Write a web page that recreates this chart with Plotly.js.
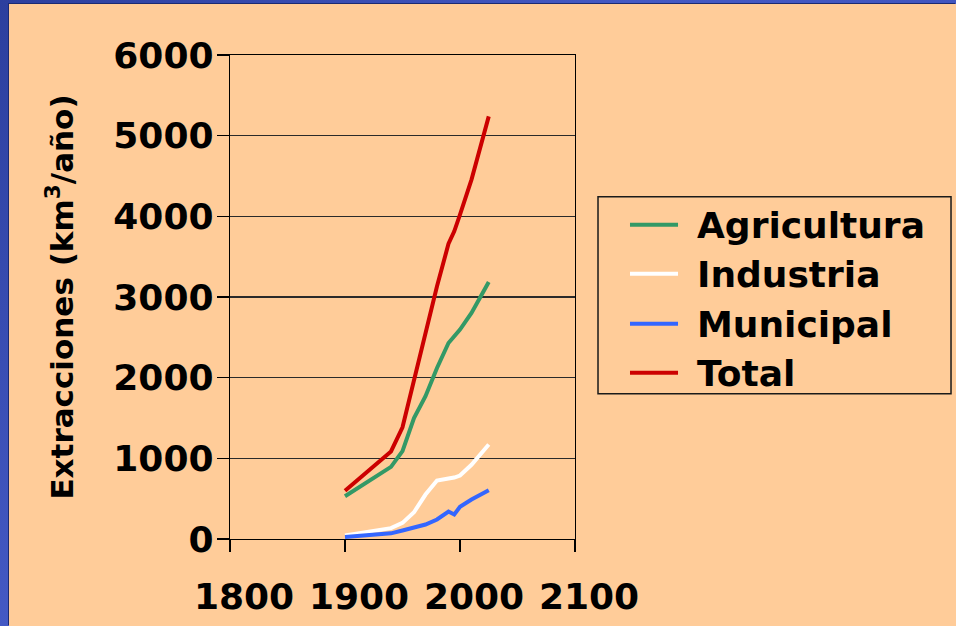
<!DOCTYPE html>
<html>
<head>
<meta charset="utf-8">
<script src="https://cdn.plot.ly/plotly-3.0.1.min.js"></script>
<style>
  html, body { margin: 0; padding: 0; width: 956px; height: 626px; overflow: hidden; }
  body { background: linear-gradient(135deg, #2c3f9e 0%, #4459c4 40%, #3a4fb8 100%); position: relative; }
  #chart { position: absolute; left: 9px; top: 4px; width: 947px; height: 622px; box-shadow: -1px -1px 0 #1b2a72; }
</style>
</head>
<body>
<div id="chart"></div>
<script>
const years = [1900, 1940, 1950, 1960, 1970, 1980, 1990, 1995, 2000, 2010, 2025];
const agricultura = [530, 894, 1090, 1500, 1770, 2120, 2430, 2505, 2596, 2803, 3187];
const industria = [45, 135, 200, 332, 551, 725, 750, 762, 787, 920, 1171];
const municipal = [25, 70, 105, 139, 180, 242, 341, 304, 399, 489, 605];
const total = [597, 1085, 1385, 1976, 2575, 3133, 3660, 3814, 4021, 4455, 5239];

const seriesNames = ['Agricultura', 'Industria', 'Municipal', 'Total'];
const seriesValues = [agricultura, industria, municipal, total];
const seriesColors = ['#339966', '#FFFFFF', '#3366FF', '#CC0000'];

const xTicks = [1800, 1900, 2000, 2100];
const yTicks = [0, 1000, 2000, 3000, 4000, 5000, 6000];

const FONT = 'DejaVu Sans, Arial, sans-serif';

const traces = seriesNames.map((n, i) => ({
  type: 'scatter', mode: 'lines', name: n,
  x: years, y: seriesValues[i],
  line: { color: seriesColors[i], width: 4 },
  showlegend: false, hoverinfo: 'skip'
}));

// manual legend (paper coordinates of the plot area)
const legendRowsY = [0.6491, 0.5480, 0.4448, 0.3437];
const shapes = [{
  type: 'rect', xref: 'paper', yref: 'paper',
  x0: 1.0667, x1: 2.0899, y0: 0.3003, y1: 0.7069,
  line: { color: '#1a1a1a', width: 1.5 }, fillcolor: 'rgba(0,0,0,0)'
}];
const annotations = [];
seriesNames.forEach((n, i) => {
  shapes.push({
    type: 'line', xref: 'paper', yref: 'paper',
    x0: 1.1594, x1: 1.2986, y0: legendRowsY[i], y1: legendRowsY[i],
    line: { color: seriesColors[i], width: 4 }
  });
  annotations.push({
    xref: 'paper', yref: 'paper', x: 1.3478, y: legendRowsY[i] - 0.002,
    xanchor: 'left', yanchor: 'middle', showarrow: false, text: n,
    font: { family: FONT, weight: 'bold', size: 36, color: '#000' }
  });
});

const layout = {
  width: 947, height: 622,
  margin: { l: 221, r: 381, t: 51, b: 86.5, pad: 0 },
  paper_bgcolor: '#FFCC99', plot_bgcolor: '#FFCC99',
  showlegend: false,
  font: { family: FONT, color: '#000' },
  xaxis: {
    range: [1800, 2100], tickmode: 'array', tickvals: xTicks, ticktext: xTicks.map(String),
    ticks: 'outside', ticklen: 12, tickwidth: 1.3, tickcolor: '#000',
    showline: true, linecolor: '#000', linewidth: 1.3, mirror: true,
    showgrid: false, zeroline: false,
    tickfont: { family: FONT, weight: 'bold', size: 36, color: '#000' },
    ticklabelshift: 14, ticklabelstandoff: 13
  },
  yaxis: {
    range: [0, 6000], tickmode: 'array', tickvals: yTicks, ticktext: yTicks.map(String),
    ticks: 'outside', ticklen: 12, tickwidth: 1.3, tickcolor: '#000',
    showline: true, linecolor: '#000', linewidth: 1.3, mirror: true,
    showgrid: true, gridcolor: '#2a2a2a', gridwidth: 1.5, zeroline: false,
    tickfont: { family: FONT, weight: 'bold', size: 36, color: '#000' },
    ticklabelstandoff: -4,
    title: { text: 'Extracciones (km<sup>3</sup>/año)', standoff: 30,
             font: { family: FONT, weight: 'bold', size: 31, color: '#000' } }
  },
  shapes: shapes,
  annotations: annotations
};

Plotly.newPlot('chart', traces, layout, { staticPlot: true, displayModeBar: false });
</script>
</body>
</html>
